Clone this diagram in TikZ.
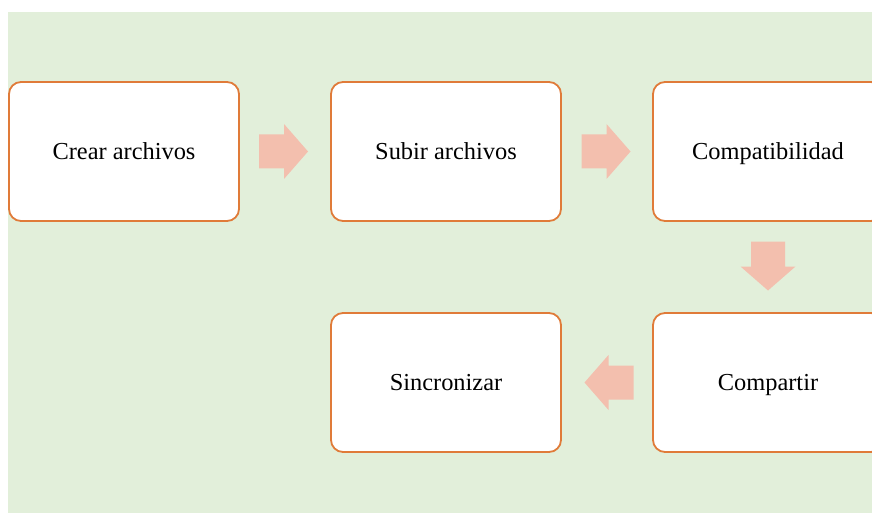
\documentclass[tikz,border=0pt]{standalone}
\usepackage{fontspec}
\setmainfont{Liberation Serif}
\usetikzlibrary{calc}
\definecolor{bggreen}{HTML}{E2EFDA}
\definecolor{boxline}{HTML}{E07B39}
\definecolor{arrowfill}{HTML}{F3BFAE}
\tikzset{
  stepbox/.style={draw=boxline, line width=1.8pt, fill=white, rounded corners=12pt,
    minimum width=230pt, minimum height=139pt, inner sep=0pt,
    text height=22pt, text depth=6pt,
    font=\fontsize{24.4}{28}\selectfont, text=black},
  blockarrow/.pic={\fill[arrowfill] (-24.5,-17) -- (0.5,-17) -- (0.5,-27.5) -- (24.5,0)
     -- (0.5,27.5) -- (0.5,17) -- (-24.5,17) -- cycle;}
}
\begin{document}
\begin{tikzpicture}[x=1pt,y=-1pt]
\useasboundingbox (0,0) rectangle (872,513);
\clip (0,0) rectangle (872,513);
\fill[bggreen] (8,12) rectangle (872,513);
\node[stepbox] (crear) at (124,151.5) {Crear archivos};
\node[stepbox] (subir) at (446,151.5) {Subir archivos};
\node[stepbox] (compat) at (768,151.5) {Compatibilidad};
\node[stepbox] (compartir) at (768,382.5) {Compartir};
\node[stepbox] (sincro) at (446,382.5) {Sincronizar};
\pic at ($(crear.east)!0.5!(subir.west)+(-1.5,0)$) {blockarrow};
\pic at ($(subir.east)!0.5!(compat.west)+(-1,0)$) {blockarrow};
\pic[rotate=-90] at ($(compat.south)!0.5!(compartir.north)+(0,-1)$) {blockarrow};
\pic[rotate=180] at ($(compartir.west)!0.5!(sincro.east)+(2,0)$) {blockarrow};
\end{tikzpicture}
\end{document}
